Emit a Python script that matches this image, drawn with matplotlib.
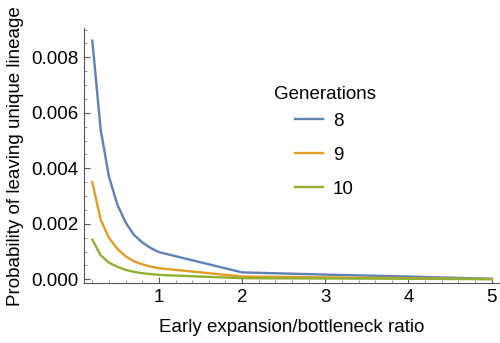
import matplotlib
matplotlib.use("Agg")
import matplotlib.pyplot as plt
from matplotlib.ticker import MultipleLocator

plt.rcParams['font.family'] = ['Liberation Sans', 'DejaVu Sans']

ratio = [0.2, 0.3, 0.4, 0.5, 0.6, 0.7, 0.8, 0.9, 1.0, 2.0, 3.0, 4.0, 5.0]
gen8 = [0.0086, 0.0054, 0.0037, 0.0027, 0.00205, 0.0016, 0.00133, 0.00113, 0.00098,
        0.00025, 0.00017, 0.0001, 0.00002]
gen9 = [0.0035, 0.00215, 0.0015, 0.0011, 0.00083, 0.00065, 0.00054, 0.00046, 0.0004,
        0.0001, 0.00007, 0.00004, 0.00001]
gen10 = [0.00143, 0.00087, 0.0006, 0.00045, 0.00034, 0.00027, 0.00022, 0.00019, 0.00016,
         0.00004, 0.00003, 0.00002, 0.000005]
series = [("8", gen8), ("9", gen9), ("10", gen10)]
colors = ["#5E81B5", "#E19C24", "#8FB032"]
xticks = [1, 2, 3, 4, 5]
yticks = [0.0, 0.002, 0.004, 0.006, 0.008]

fs = 13.5
fig = plt.figure(figsize=(5, 3.43), dpi=100)
ax = fig.add_axes([0.168, 0.1735, 0.832, 0.7445])

for (lab, vals), c in zip(series, colors):
    ax.plot(ratio, vals, color=c, lw=1.7, label=lab, solid_joinstyle='round')

ax.set_xlim(0.1, 5.1)
ax.set_ylim(-0.00015, 0.00905)
ax.set_xticks(xticks)
ax.set_xticklabels([str(t) for t in xticks])
ax.set_yticks(yticks)
ax.set_yticklabels([f"{t:.3f}" for t in yticks])
ax.xaxis.set_minor_locator(MultipleLocator(0.2))
ax.yaxis.set_minor_locator(MultipleLocator(0.0005))

for s in ['top', 'right']:
    ax.spines[s].set_visible(False)
for s in ['left', 'bottom']:
    ax.spines[s].set_color('#555555')
    ax.spines[s].set_linewidth(0.8)

ax.tick_params(which='major', direction='in', length=4, width=0.8, color='#555555',
               labelsize=fs, labelcolor='black', pad=4)
ax.tick_params(which='minor', direction='in', length=2.2, width=0.6, color='#888888')

ax.set_xlabel("Early expansion/bottleneck ratio", fontsize=fs, labelpad=9)
ax.set_ylabel("Probability of leaving unique lineage", fontsize=fs, labelpad=5)

leg = ax.legend(title="Generations", loc='upper left', bbox_to_anchor=(0.433, 0.81),
                frameon=False, fontsize=fs, title_fontsize=fs, handlelength=1.5,
                handletextpad=0.5, labelspacing=0.9, borderpad=0)
leg._legend_box.sep = 7

fig.savefig("out.png", dpi=100)
